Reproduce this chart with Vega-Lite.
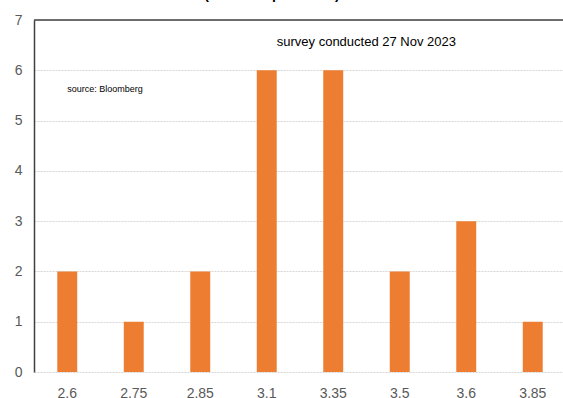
{
  "$schema": "https://vega.github.io/schema/vega-lite/v6.json",
  "autosize": "none",
  "width": 532,
  "height": 352,
  "padding": {"left": 34, "top": 20, "right": 0, "bottom": 26},
  "background": "white",
  "config": {
    "view": {"stroke": null},
    "font": "Liberation Sans"
  },
  "title": {
    "text": "(no. of respondents)",
    "fontSize": 14,
    "fontWeight": "bold",
    "color": "#000000",
    "offset": 11,
    "dx": -28,
    "anchor": "middle"
  },
  "datasets": {
    "bars": [
      {"rate": "2.6", "count": 2},
      {"rate": "2.75", "count": 1},
      {"rate": "2.85", "count": 2},
      {"rate": "3.1", "count": 6},
      {"rate": "3.35", "count": 6},
      {"rate": "3.5", "count": 2},
      {"rate": "3.6", "count": 3},
      {"rate": "3.85", "count": 1}
    ],
    "survey": [
      {"rate": "3.1", "y": 6.56, "label": "survey conducted 27 Nov 2023"}
    ],
    "source": [
      {"rate": "2.6", "y": 5.63, "label": "source:  Bloomberg"}
    ],
    "top": [{"y": 7}]
  },
  "layer": [
    {
      "data": {"name": "bars"},
      "mark": {"type": "bar", "color": "#ED7D31"},
      "encoding": {
        "x": {
          "field": "rate",
          "type": "nominal",
          "sort": null,
          "scale": {"paddingInner": 0.7, "paddingOuter": 0.35},
          "axis": {
            "title": null,
            "labelAngle": 0,
            "labelFontSize": 14,
            "labelColor": "#595959",
            "labelPadding": 14,
            "ticks": false,
            "domain": false
          }
        },
        "y": {
          "field": "count",
          "type": "quantitative",
          "scale": {"domain": [0, 7], "nice": false},
          "axis": {
            "title": null,
            "values": [0, 1, 2, 3, 4, 5, 6, 7],
            "labelFontSize": 14,
            "labelColor": "#595959",
            "labelPadding": 12,
            "ticks": false,
            "domain": true,
            "domainColor": "#404040",
            "domainWidth": 1.5,
            "grid": true,
            "gridColor": "#d6d6d6",
            "gridDash": [2, 1],
            "gridWidth": 1
          }
        }
      }
    },
    {
      "data": {"name": "top"},
      "mark": {"type": "rule", "color": "#404040", "strokeWidth": 1.5},
      "encoding": {
        "y": {"field": "y", "type": "quantitative"}
      }
    },
    {
      "data": {"name": "survey"},
      "mark": {"type": "text", "align": "left", "baseline": "middle", "dx": 10, "fontSize": 13, "color": "#000000"},
      "encoding": {
        "x": {"field": "rate", "type": "nominal", "sort": null},
        "y": {"field": "y", "type": "quantitative"},
        "text": {"field": "label"}
      }
    },
    {
      "data": {"name": "source"},
      "mark": {"type": "text", "align": "left", "baseline": "middle", "dx": 0, "fontSize": 9, "color": "#000000"},
      "encoding": {
        "x": {"field": "rate", "type": "nominal", "sort": null},
        "y": {"field": "y", "type": "quantitative"},
        "text": {"field": "label"}
      }
    }
  ]
}
